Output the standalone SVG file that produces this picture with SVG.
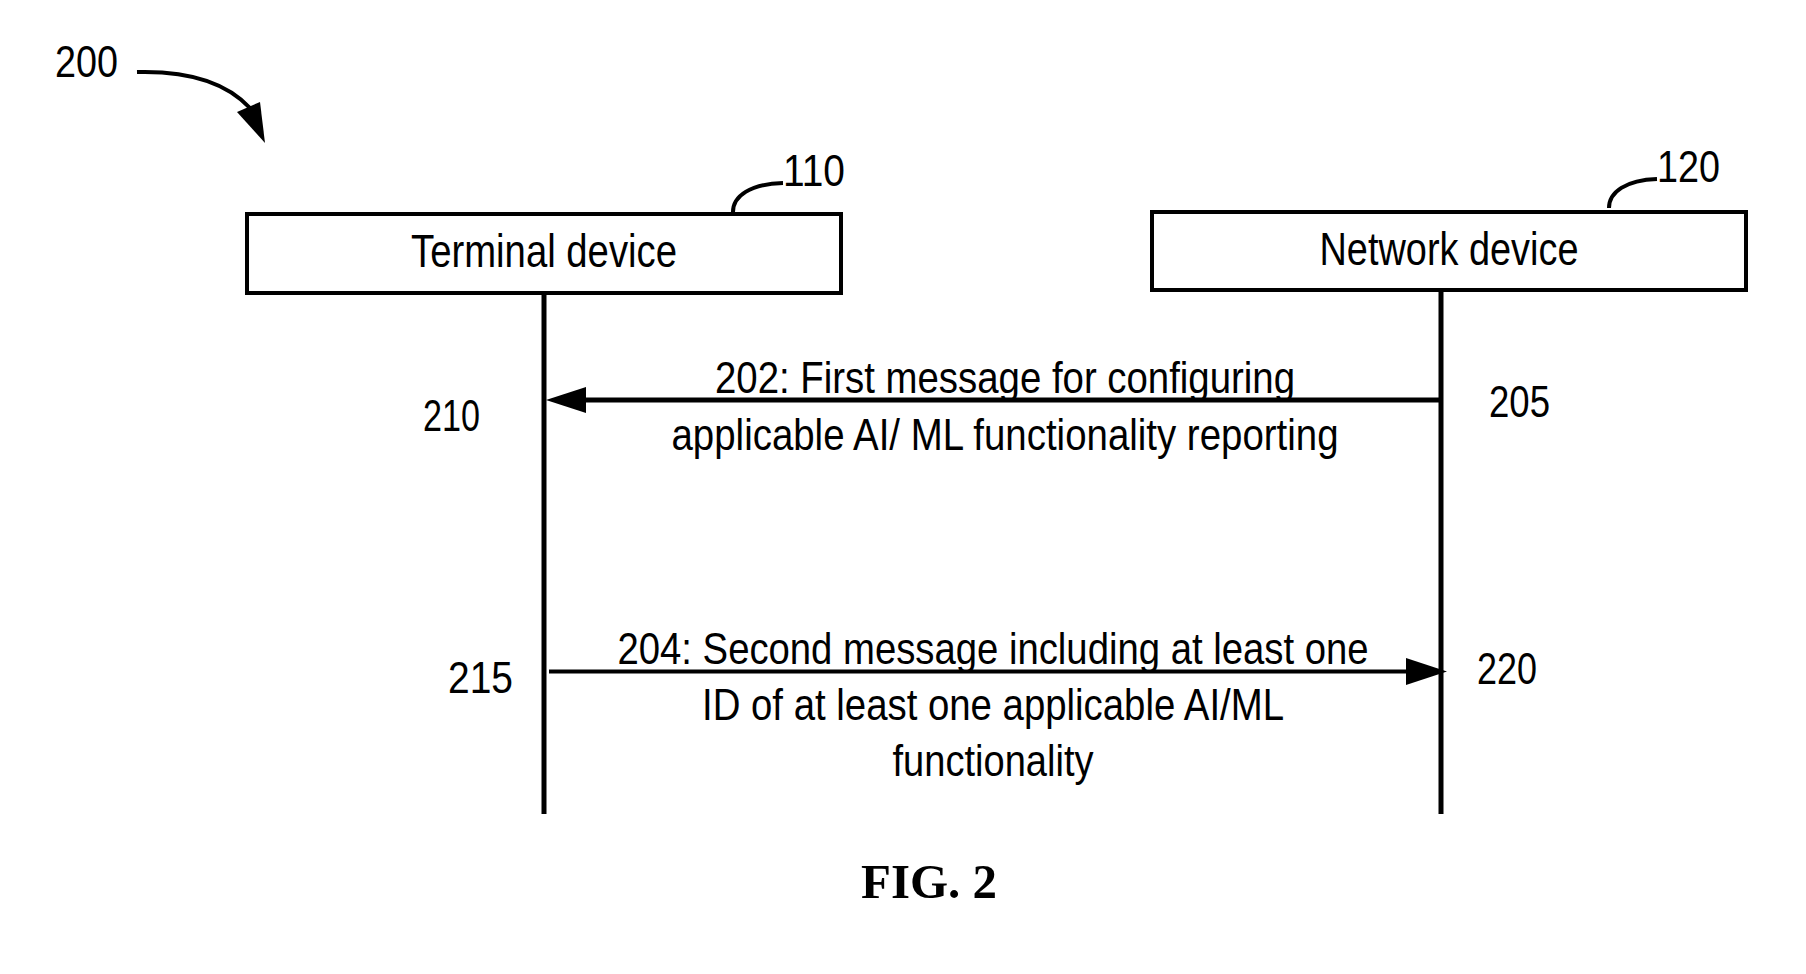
<svg xmlns="http://www.w3.org/2000/svg" width="1806" height="974" viewBox="0 0 1806 974">
<style>
.t{font-family:"Liberation Sans",Arial,sans-serif;font-size:44px;fill:#000}
.n{font-size:45px}
.box{fill:#fff;stroke:#000;stroke-width:4}
.ln{fill:none;stroke:#000;stroke-width:4}
.fig{font-family:"Liberation Serif","Times New Roman",serif;font-weight:bold;font-size:48px;fill:#000}
</style>
<rect width="1806" height="974" fill="#fff"/>
<g id="ref200">
<text class="t n" x="55" y="77" textLength="63" lengthAdjust="spacingAndGlyphs">200</text>
<path class="ln" d="M137,72 Q215,70 250,108"/>
<polygon points="237,112 260,102 265,143" fill="#000"/>
</g>
<g id="terminal">
<rect class="box" x="247" y="214" width="594" height="79"/>
<text class="t" x="544" y="267" text-anchor="middle" textLength="266" lengthAdjust="spacingAndGlyphs" style="font-size:46px">Terminal device</text>
<path class="ln" d="M733,212 C733,196 750,184 783,183"/>
<text class="t n" x="783" y="186" textLength="62" lengthAdjust="spacingAndGlyphs">110</text>
</g>
<g id="network">
<rect class="box" x="1152" y="212" width="594" height="78"/>
<text class="t" x="1449" y="265" text-anchor="middle" textLength="259" lengthAdjust="spacingAndGlyphs" style="font-size:46px">Network device</text>
<path class="ln" d="M1609,208 C1609,192 1626,180 1657,179"/>
<text class="t n" x="1657" y="182" textLength="63" lengthAdjust="spacingAndGlyphs">120</text>
</g>
<g id="connectors">
<line class="ln" x1="544" y1="293" x2="544" y2="814" style="stroke-width:5"/>
<line class="ln" x1="1441" y1="290" x2="1441" y2="814" style="stroke-width:5"/>
<line class="ln" x1="1441" y1="400" x2="580" y2="400" style="stroke-width:5"/>
<polygon points="546,400 586,387 586,413" fill="#000"/>
<line class="ln" x1="549" y1="671.5" x2="1410" y2="671.5" style="stroke-width:4"/>
<polygon points="1447,671.5 1406,658 1406,685" fill="#000"/>
</g>
<g id="labels">
<text class="t n" x="423" y="431" textLength="57" lengthAdjust="spacingAndGlyphs">210</text>
<text class="t n" x="1489" y="417" textLength="61" lengthAdjust="spacingAndGlyphs">205</text>
<text class="t n" x="448" y="693" textLength="65" lengthAdjust="spacingAndGlyphs">215</text>
<text class="t n" x="1477" y="684" textLength="60" lengthAdjust="spacingAndGlyphs">220</text>
<text class="t" x="1005" y="393" text-anchor="middle" textLength="580" lengthAdjust="spacingAndGlyphs">202: First message for configuring</text>
<text class="t" x="1005" y="450" text-anchor="middle" textLength="667" lengthAdjust="spacingAndGlyphs">applicable AI/ ML functionality reporting</text>
<text class="t" x="993" y="664" text-anchor="middle" textLength="751" lengthAdjust="spacingAndGlyphs">204: Second message including at least one</text>
<text class="t" x="993" y="720" text-anchor="middle" textLength="582" lengthAdjust="spacingAndGlyphs">ID of at least one applicable AI/ML</text>
<text class="t" x="993" y="776" text-anchor="middle" textLength="201" lengthAdjust="spacingAndGlyphs">functionality</text>
</g>
<text class="fig" x="929" y="898" text-anchor="middle" textLength="136" lengthAdjust="spacingAndGlyphs">FIG. 2</text>
</svg>
